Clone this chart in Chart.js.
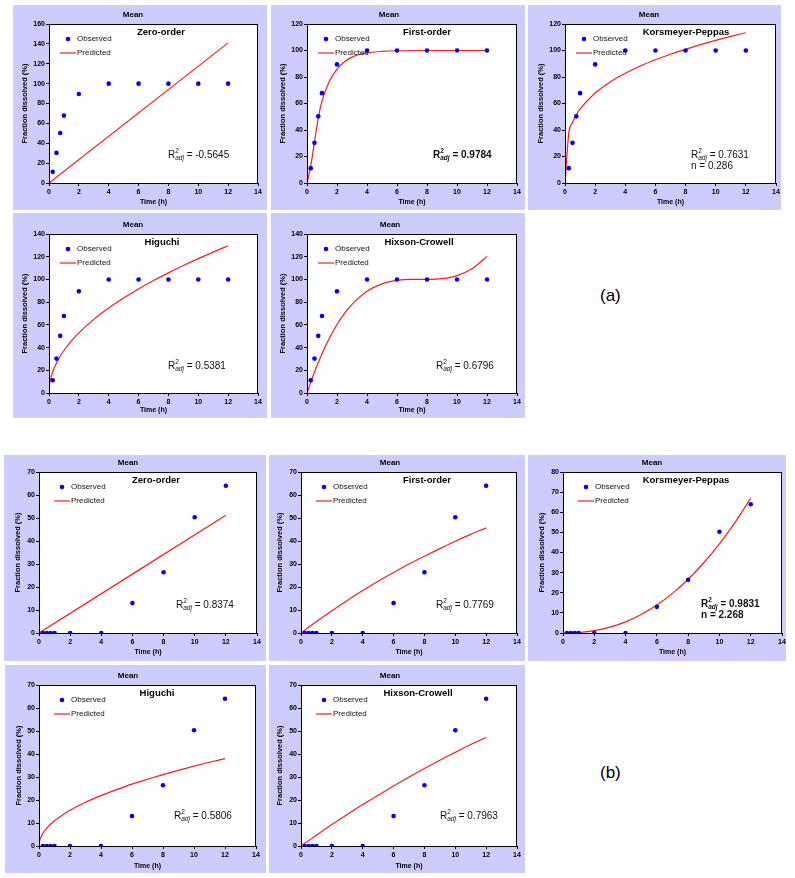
<!DOCTYPE html>
<html><head><meta charset="utf-8">
<script src="https://cdn.jsdelivr.net/npm/chart.js@4/dist/chart.umd.min.js"></script>
<style>
html,body{margin:0;padding:0;background:#fff;}
body{width:795px;height:878px;position:relative;overflow:hidden;font-family:"Liberation Sans",Arial,sans-serif;}
.panel{position:absolute;background:#ccccff;}
.panel canvas{display:block;}
.lab{position:absolute;font-size:17px;color:#000;line-height:20px;}
</style></head><body>
<div class="lab" style="left:600px;top:286px">(a)</div>
<div class="lab" style="left:600px;top:763px">(b)</div>
<script>
// ---------- data ----------
const timeObs   = [0.25, 0.5, 0.75, 1, 2, 4, 6, 8, 10, 12];
const observedA = [11.2, 30.3, 50.3, 67.8, 89.5, 100, 100, 100, 100, 100];
const observedB = [0, 0, 0, 0, 0, 0, 13.0, 26.4, 50.3, 64.0];
const xTicks = [0, 2, 4, 6, 8, 10, 12, 14];
const yTicks160 = [0, 20, 40, 60, 80, 100, 120, 140, 160];
const yTicks140 = [0, 20, 40, 60, 80, 100, 120, 140];
const yTicks120 = [0, 20, 40, 60, 80, 100, 120];
const yTicks70  = [0, 10, 20, 30, 40, 50, 60, 70];
const yTicks80  = [0, 10, 20, 30, 40, 50, 60, 70, 80];

// predicted curves, (a)
const zeroA_t  = [0, 12];
const zeroA_y  = [0, 141];
const firstA_t = [0, 0.25, 0.5, 0.75, 1, 1.5, 2, 2.5, 3, 3.5, 4, 5, 6, 8, 10, 12];
const firstA_y = [0, 13, 31, 49, 62, 77, 86, 91.5, 95, 97, 98.2, 99.3, 99.8, 100, 100, 100];
const kpA_t    = [0, 0.25, 0.5, 0.75, 1, 2, 3, 4, 5, 6, 7, 8, 9, 10, 11, 12];
const kpA_y    = [0, 37.5, 45.7, 51.3, 55.7, 67.9, 76.3, 82.8, 88.3, 93.0, 97.2, 100.9, 104.4, 107.6, 110.6, 113.4];
const higA_t   = [0, 0.05, 0.1, 0.25, 0.5, 0.75, 1, 1.5, 2, 3, 4, 5, 6, 7, 8, 9, 10, 11, 12];
const higA_y   = [0, 8.4, 11.8, 18.7, 26.4, 32.4, 37.4, 45.8, 52.9, 64.8, 74.8, 83.6, 91.6, 99.0, 105.8, 112.2, 118.3, 124.0, 129.6];
const hcA_t    = [0, 0.5, 1, 1.5, 2, 2.5, 3, 4, 5, 6, 7, 8, 9, 10, 11, 12];
const hcA_y    = [0, 18.5, 34.6, 48.4, 60.3, 70.1, 78.1, 89.6, 96.1, 99.1, 99.96, 100.0, 100.7, 103.4, 109.4, 120.3];

// predicted curves, (b)
const zeroB_t  = [0, 12];
const zeroB_y  = [0, 51.2];
const firstB_t = [0, 1, 2, 3, 4, 5, 6, 7, 8, 9, 10, 11, 12];
const firstB_y = [0, 4.96, 9.68, 14.17, 18.43, 22.48, 26.29, 29.97, 33.4, 36.7, 39.9, 42.9, 45.7];
const kpB_t    = [0, 0.5, 1, 2, 3, 4, 5, 6, 7, 8, 9, 10, 11, 12];
const kpB_y    = [0, 0.05, 0.24, 1.15, 2.89, 5.55, 9.2, 13.9, 19.7, 26.7, 34.9, 44.3, 55.0, 67.0];
const higB_t   = [0, 0.05, 0.1, 0.25, 0.5, 1, 1.5, 2, 3, 4, 5, 6, 7, 8, 9, 10, 11, 12];
const higB_y   = [0, 2.45, 3.47, 5.48, 7.76, 10.97, 13.4, 15.5, 19.0, 21.9, 24.5, 26.9, 29.0, 31.0, 32.9, 34.7, 36.4, 38.0];
const hcB_t    = [0, 1, 2, 3, 4, 5, 6, 7, 8, 9, 10, 11, 12];
const hcB_y    = [0, 4.72, 9.3, 13.7, 18.0, 22.1, 26.1, 30.0, 33.7, 37.3, 40.7, 44.1, 47.2];

// ---------- layout ----------
const FONT = '"Liberation Sans", Arial, sans-serif';
const OBS_COLOR = '#0000ff';
const PRED_COLOR = '#ff1a1a';
Chart.defaults.font.family = FONT;

const panels = [
  {box:[13,5,254,205],  plot:[49,24,258,183],   yt:25,    xpb:3.5, model:'Zero-order',       ticks:yTicks160, obs:observedA, pt:zeroA_t,  py:zeroA_y,  r2:'-0.5645', bold:false, n:null,
   meanDx:84, titleDx:112, legDx:19, r2Dx:119, r2Dy:131},
  {box:[271,5,254,205], plot:[307,24,517,183],  yt:283.3, xpb:3.5, model:'First-order',      ticks:yTicks120, obs:observedA, pt:firstA_t, py:firstA_y, r2:'0.9784',  bold:true,  n:null,
   meanDx:82, titleDx:120, legDx:19, r2Dx:126, r2Dy:131},
  {box:[528,5,253,205], plot:[565,24,776,183],  yt:541,   xpb:3.5, model:'Korsmeyer-Peppas', ticks:yTicks120, obs:observedA, pt:kpA_t,    py:kpA_y,    r2:'0.7631',  bold:false, n:'0.286',
   meanDx:84, titleDx:121, legDx:19, r2Dx:126, r2Dy:131},
  {box:[13,213,254,205],  plot:[49,234,258,393],  yt:25,    xpb:3.5, model:'Higuchi',        ticks:yTicks140, obs:observedA, pt:higA_t,   py:higA_y,   r2:'0.5381',  bold:false, n:null,
   meanDx:84, titleDx:113, legDx:19, r2Dx:119, r2Dy:132},
  {box:[271,213,254,205], plot:[307,234,517,393], yt:283.3, xpb:3.5, model:'Hixson-Crowell', ticks:yTicks140, obs:observedA, pt:hcA_t,    py:hcA_y,    r2:'0.6796',  bold:false, n:null,
   meanDx:83, titleDx:112, legDx:19, r2Dx:129, r2Dy:132},

  {box:[4,455,262,206],   plot:[39,472,257,633],  yt:18.3,  xpb:4.5, model:'Zero-order',       ticks:yTicks70, obs:observedB, pt:zeroB_t,  py:zeroB_y,  r2:'0.8374',  bold:false, n:null,
   meanDx:89, titleDx:117, legDx:23, r2Dx:137, r2Dy:133},
  {box:[269,455,256,206], plot:[301,472,517,633], yt:280,   xpb:4.5, model:'First-order',      ticks:yTicks70, obs:observedB, pt:firstB_t, py:firstB_y, r2:'0.7769',  bold:false, n:null,
   meanDx:89, titleDx:126, legDx:23, r2Dx:135, r2Dy:133},
  {box:[528,455,258,206], plot:[563,472,782,633], yt:542.3, xpb:4.5, model:'Korsmeyer-Peppas', ticks:yTicks80, obs:observedB, pt:kpB_t,    py:kpB_y,    r2:'0.9831',  bold:true,  n:'2.268',
   meanDx:89, titleDx:123, legDx:23, r2Dx:138, r2Dy:132},
  {box:[5,665,261,208],   plot:[39,685,256,846],  yt:19,    xpb:3.1, model:'Higuchi',          ticks:yTicks70, obs:observedB, pt:higB_t,   py:higB_y,   r2:'0.5806',  bold:false, n:null,
   meanDx:89, titleDx:118, legDx:23, r2Dx:135, r2Dy:131},
  {box:[269,665,256,208], plot:[301,685,517,846], yt:280,   xpb:3.1, model:'Hixson-Crowell',   ticks:yTicks70, obs:observedB, pt:hcB_t,    py:hcB_y,    r2:'0.7963',  bold:false, n:null,
   meanDx:89, titleDx:117, legDx:23, r2Dx:139, r2Dy:131}
];

const annotPlugin = {
  id: 'annot',
  beforeDraw(chart) {
    const {ctx, chartArea: a} = chart;
    ctx.save();
    ctx.fillStyle = '#fff';
    ctx.fillRect(a.left, a.top, a.right - a.left, a.bottom - a.top);
    ctx.restore();
  },
  afterDraw(chart, args, o) {
    const {ctx, chartArea: a} = chart;
    const l = a.left, t = a.top;
    ctx.save();
    ctx.strokeStyle = '#000'; ctx.lineWidth = 1;
    ctx.strokeRect(Math.round(a.left) + 0.5, Math.round(a.top) + 0.5, Math.round(a.right - a.left) - 1, Math.round(a.bottom - a.top));
    ctx.fillStyle = '#000';
    ctx.textBaseline = 'middle';
    // Mean
    ctx.textAlign = 'center';
    ctx.font = 'bold 8px ' + FONT;
    ctx.fillText('Mean', l + o.meanDx, t - 9.5);
    // model title
    ctx.font = 'bold 9.5px ' + FONT;
    ctx.fillText(o.model, l + o.titleDx, t + 8.5);
    // legend
    const ds = chart.data.datasets;
    const lx = l + o.legDx;
    ctx.fillStyle = OBS_COLOR;
    ctx.beginPath(); ctx.arc(lx, t + 15, 2.3, 0, Math.PI * 2); ctx.fill();
    ctx.strokeStyle = PRED_COLOR; ctx.lineWidth = 1.2;
    ctx.beginPath(); ctx.moveTo(lx - 8, t + 29); ctx.lineTo(lx + 8, t + 29); ctx.stroke();
    ctx.fillStyle = '#111';
    ctx.textAlign = 'left';
    ctx.font = '8px ' + FONT;
    ctx.fillText(ds[0].label, lx + 9, t + 15);
    ctx.fillText(ds[1].label, lx + 9, t + 29);
    // R2 annotation
    const w = o.bold ? 'bold ' : '';
    let x = l + o.r2Dx; const y = t + o.r2Dy;
    ctx.font = w + '10px ' + FONT;
    ctx.fillText('R', x, y); x += ctx.measureText('R').width;
    ctx.font = w + '6.5px ' + FONT;
    ctx.fillText('2', x, y - 3.5);
    ctx.font = 'italic ' + w + '6.5px ' + FONT;
    ctx.fillText('adj', x, y + 3); x += ctx.measureText('adj').width;
    ctx.font = w + '10px ' + FONT;
    ctx.fillText(' = ' + o.r2, x, y);
    if (o.n) ctx.fillText('n = ' + o.n, l + o.r2Dx, y + 11);
    ctx.restore();
  }
};

function pts(ts, ys) { return ts.map((t, i) => ({x: t, y: ys[i]})); }

panels.forEach(p => {
  const [bx, by, bw, bh] = p.box;
  const [l, t, r, b] = p.plot;
  const div = document.createElement('div');
  div.className = 'panel';
  Object.assign(div.style, {left: bx + 'px', top: by + 'px', width: bw + 'px', height: bh + 'px'});
  const cv = document.createElement('canvas');
  cv.width = bw; cv.height = bh;
  cv.style.width = bw + 'px'; cv.style.height = bh + 'px';
  div.appendChild(cv);
  document.body.appendChild(div);
  const tickFont = {size: 7, weight: 'bold', family: FONT};
  new Chart(cv, {
    type: 'scatter',
    data: {datasets: [
      {label: 'Observed', data: pts(timeObs, p.obs), showLine: false, pointRadius: 2.3, pointBorderWidth: 0,
       pointBackgroundColor: OBS_COLOR, backgroundColor: OBS_COLOR, borderColor: OBS_COLOR},
      {label: 'Predicted', data: pts(p.pt, p.py), showLine: true, pointRadius: 0, borderColor: PRED_COLOR,
       borderWidth: 1.2, cubicInterpolationMode: 'monotone', fill: false}
    ]},
    options: {
      responsive: false, animation: false, events: [],
      layout: {padding: {top: t - by, right: bx + bw - r, bottom: 0, left: 0}},
      plugins: {legend: {display: false}, tooltip: {enabled: false},
        annot: {model: p.model, r2: p.r2, bold: p.bold, n: p.n, meanDx: p.meanDx, titleDx: p.titleDx,
                legDx: p.legDx, r2Dx: p.r2Dx, r2Dy: p.r2Dy}},
      scales: {
        x: {type: 'linear', min: 0, max: 14,
            afterBuildTicks: s => { s.ticks = xTicks.map(v => ({value: v})); },
            ticks: {font: tickFont, color: '#000', padding: 2, maxRotation: 0, autoSkip: false},
            grid: {display: true, drawOnChartArea: false, drawTicks: true, tickLength: 3, color: '#000'},
            border: {display: false},
            title: {display: true, text: 'Time (h)', color: '#000', font: {size: 7, weight: 'bold', family: FONT},
                    padding: {top: 0, bottom: p.xpb}},
            afterFit: s => { s.height = by + bh - b; s.paddingLeft = 0; s.paddingRight = 0; }},
        y: {type: 'linear', min: 0, max: p.ticks[p.ticks.length - 1],
            afterBuildTicks: s => { s.ticks = p.ticks.map(v => ({value: v})); },
            ticks: {font: tickFont, color: '#000', padding: 1, autoSkip: false},
            grid: {display: true, drawOnChartArea: false, drawTicks: true, tickLength: 3, color: '#000'},
            border: {display: false},
            title: {display: true, text: 'Fraction dissolved (%)', color: '#000', font: {size: 7.5, weight: 'bold', family: FONT},
                    padding: {top: p.yt - bx - 4.5, bottom: 0}},
            afterFit: s => { s.width = l - bx; s.paddingTop = 0; s.paddingBottom = 0; }}
      }
    },
    plugins: [annotPlugin]
  });
});
</script>
</body></html>
